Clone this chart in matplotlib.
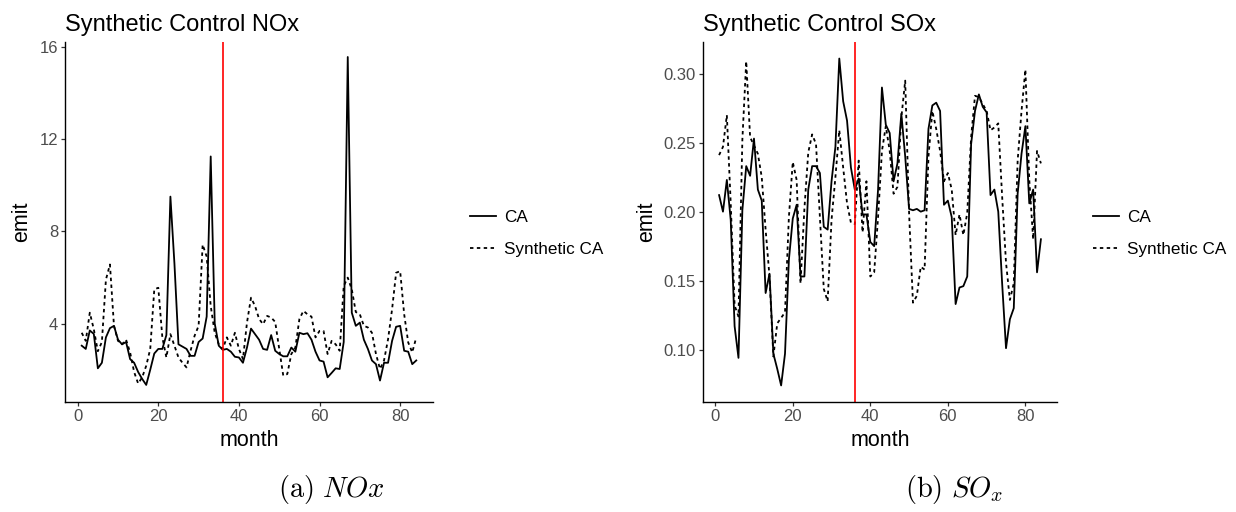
import numpy as np
import matplotlib
matplotlib.use("Agg")
import matplotlib.pyplot as plt

plt.rcParams['font.family'] = ['Liberation Sans', 'DejaVu Sans']
plt.rcParams['mathtext.fontset'] = 'cm'

month = list(range(1, 85))
treat_month = 36

nox_ca = [3.04, 2.9, 3.7, 3.55, 2.06, 2.3, 3.4, 3.8, 3.9, 3.3,
          3.1, 3.2, 2.46, 2.3, 1.9, 1.6, 1.34, 2.0, 2.7, 2.9,
          2.9, 3.5, 9.5, 6.6, 3.1, 3.0, 2.9, 2.6, 2.6, 3.2,
          3.35, 4.3, 11.24, 4.0, 3.04, 2.86, 2.9, 2.78, 2.56, 2.53,
          2.3, 2.96, 3.78, 3.54, 3.3, 2.9, 2.86, 3.5, 2.82, 2.68,
          2.58, 2.58, 2.96, 2.78, 3.6, 3.54, 3.58, 3.3, 2.78, 2.4,
          2.35, 1.67, 1.86, 2.06, 2.03, 3.2, 15.55, 4.47, 3.9, 4.04,
          3.3, 2.9, 2.4, 2.24, 1.53, 2.3, 2.3, 3.25, 3.86, 3.9,
          2.82, 2.78, 2.24, 2.4]
nox_synth = [3.6, 3.25, 4.47, 3.75, 2.8, 3.2, 5.9, 6.56, 3.9, 3.25,
             3.1, 3.3, 2.75, 1.9, 1.4, 1.67, 2.17, 2.9, 5.48, 5.55,
             3.4, 2.53, 3.54, 3.04, 2.53, 2.3, 2.1, 2.82, 3.47, 3.9,
             7.42, 6.9, 4.76, 3.6, 3.1, 2.9, 3.4, 3.04, 3.6, 2.9,
             2.46, 4.04, 5.12, 4.76, 4.2, 3.97, 4.33, 4.26, 4.07, 2.9,
             1.74, 1.81, 2.68, 2.96, 4.19, 4.55, 4.4, 4.3, 3.4, 3.68,
             3.68, 2.68, 3.25, 3.1, 2.82, 5.63, 5.99, 5.48, 4.5, 4.4,
             3.9, 3.83, 3.6, 2.68, 2.03, 2.4, 3.32, 4.62, 6.2, 6.27,
             4.4, 3.18, 2.75, 3.4]

sox_ca = [0.212, 0.200, 0.223, 0.194, 0.117, 0.094, 0.201, 0.233, 0.226, 0.253,
          0.216, 0.208, 0.141, 0.155, 0.097, 0.086, 0.074, 0.097, 0.165, 0.195,
          0.205, 0.153, 0.153, 0.216, 0.233, 0.233, 0.228, 0.189, 0.187, 0.222,
          0.247, 0.311, 0.280, 0.266, 0.232, 0.216, 0.224, 0.198, 0.198, 0.178,
          0.175, 0.216, 0.290, 0.263, 0.257, 0.222, 0.235, 0.271, 0.240, 0.202,
          0.201, 0.202, 0.200, 0.201, 0.260, 0.277, 0.279, 0.273, 0.205, 0.208,
          0.196, 0.133, 0.145, 0.146, 0.153, 0.249, 0.273, 0.285, 0.276, 0.272,
          0.212, 0.216, 0.200, 0.148, 0.101, 0.122, 0.130, 0.213, 0.242, 0.262,
          0.206, 0.216, 0.156, 0.180]
sox_synth = [0.241, 0.247, 0.270, 0.206, 0.132, 0.124, 0.252, 0.309, 0.254, 0.248,
             0.242, 0.225, 0.187, 0.153, 0.095, 0.119, 0.123, 0.127, 0.196, 0.236,
             0.223, 0.148, 0.202, 0.243, 0.256, 0.249, 0.196, 0.144, 0.135, 0.194,
             0.225, 0.259, 0.232, 0.206, 0.192, 0.191, 0.237, 0.185, 0.222, 0.153,
             0.156, 0.196, 0.244, 0.262, 0.244, 0.213, 0.218, 0.268, 0.295, 0.199,
             0.134, 0.139, 0.160, 0.158, 0.240, 0.273, 0.260, 0.244, 0.222, 0.228,
             0.216, 0.183, 0.198, 0.183, 0.199, 0.254, 0.284, 0.283, 0.278, 0.273,
             0.259, 0.261, 0.264, 0.211, 0.163, 0.136, 0.148, 0.237, 0.273, 0.303,
             0.223, 0.180, 0.244, 0.235]

W, H = 1236, 512
fig = plt.figure(figsize=(W / 100, H / 100), dpi=100)


def panel(rect, ca, synth, title, yticks, yticklabels, ylim, legend_x, caption, caption_x):
    ax = fig.add_axes([rect[0] / W, 1 - rect[3] / H, (rect[2] - rect[0]) / W, (rect[3] - rect[1]) / H])
    ax.plot(month, ca, color='black', lw=1.3, label='CA')
    ax.plot(month, synth, color='black', lw=1.3, linestyle=(0, (1.9, 1.9)), label='Synthetic CA')
    ax.axvline(treat_month, color='red', lw=1.2)
    ax.set_xlim(-3.15, 88.15)
    ax.set_ylim(*ylim)
    ax.set_xticks([0, 20, 40, 60, 80])
    ax.set_yticks(yticks)
    ax.set_yticklabels(yticklabels)
    for s in ['top', 'right']:
        ax.spines[s].set_visible(False)
    for s in ['left', 'bottom']:
        ax.spines[s].set_linewidth(1.0)
        ax.spines[s].set_color('black')
    ax.tick_params(length=3, width=0.9, color='#333333', labelcolor='#4D4D4D',
                   labelsize=12, pad=2)
    ax.set_xlabel('month', fontsize=15.5, labelpad=4)
    ax.set_ylabel('emit', fontsize=15.5, labelpad=5)
    ax.set_title(title, fontsize=17, loc='left', x=0.0, pad=8)
    ax.legend(loc='center left', bbox_to_anchor=(legend_x / W, 1 - 233.5 / H),
              bbox_transform=fig.transFigure, frameon=False, fontsize=12.3,
              handlelength=1.5, handletextpad=0.5, labelspacing=1.0,
              borderpad=0, borderaxespad=0)
    fig.text(caption_x / W, 1 - 489 / H, caption, fontsize=20.5, ha='center', va='center')
    return ax


panel((65, 42, 433, 402), nox_ca, nox_synth, 'Synthetic Control NOx',
      [4, 8, 12, 16], ['4', '8', '12', '16'], (0.6, 16.2), 470,
      r'$\mathrm{(a)}\ NOx$', 331)
panel((703, 42, 1057, 402), sox_ca, sox_synth, 'Synthetic Control SOx',
      [0.10, 0.15, 0.20, 0.25, 0.30], ['0.10', '0.15', '0.20', '0.25', '0.30'],
      (0.062, 0.323), 1093, r'$\mathrm{(b)}\ SO_x$', 954)

fig.savefig('out.png', dpi=100)
